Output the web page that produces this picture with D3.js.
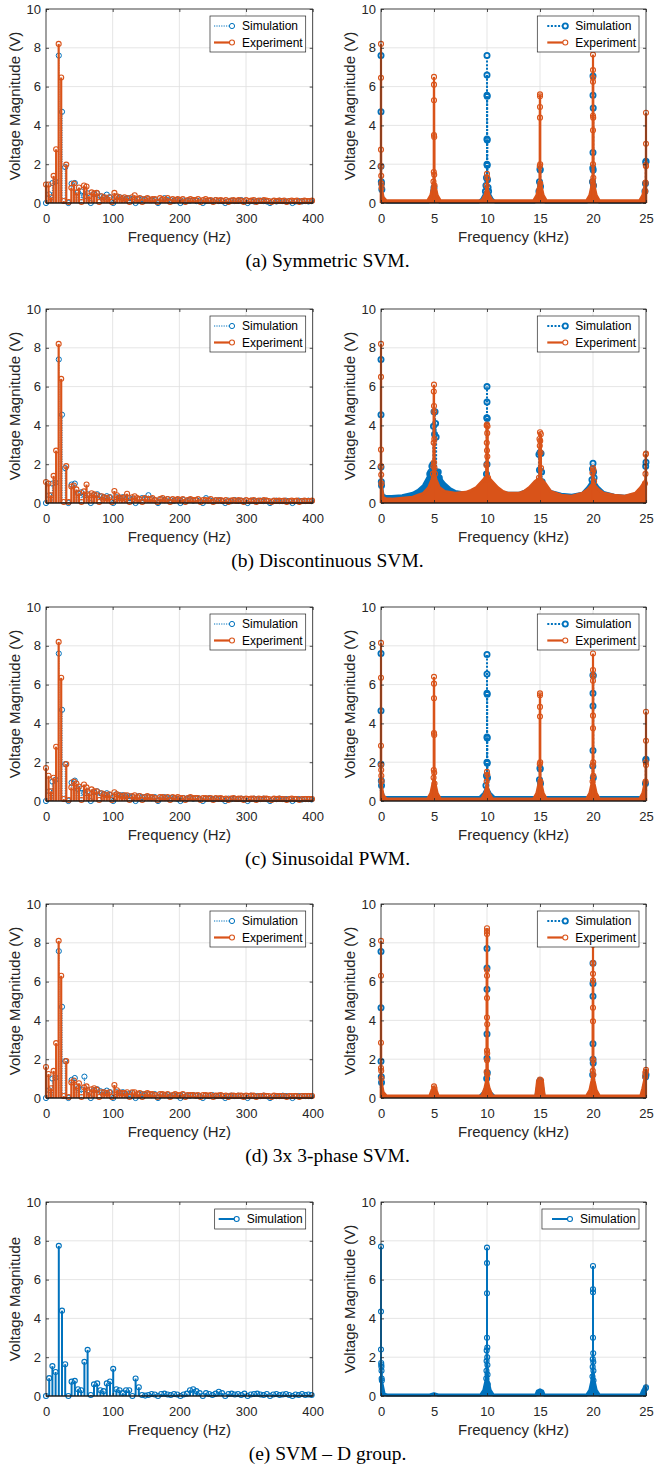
<!DOCTYPE html>
<html lang="en">
<head>
<meta charset="UTF-8">
<title>Voltage spectra</title>
<script src="https://cdn.jsdelivr.net/npm/d3@7"></script>
<style>
  body { margin: 0; background: #fff; }
  svg { display: block; font-family: "Liberation Sans", Arial, sans-serif; }
  .axis-label { fill: #262626; font-size: 15px; }
  .caption { font-family: "Liberation Serif", "Times New Roman", serif; font-size: 19.5px; fill: #000; }
  .legend text { font-size: 12px; fill: #000; }
</style>
</head>
<body>
<svg id="chart" width="655" height="1465"></svg>
<script>
// ---- data -------------------------------------------------------------
const BLUE = "#0072BD", ORANGE = "#D95319";
const SIM_BIN_HZ = 4.8;   // frequency resolution of the simulated spectra
const EXP_BIN_HZ = 3.8;   // frequency resolution of the measured spectra

const yTicks = [0, 2, 4, 6, 8, 10];
const hzTicks = [0, 100, 200, 300, 400];
const khzTicks = [0, 5, 10, 15, 20, 25];
const captions = ["(a) Symmetric SVM.", "(b) Discontinuous SVM.", "(c) Sinusoidal PWM.",
                  "(d) 3x 3-phase SVM.", "(e) SVM \u2013 D group."];

// low-frequency spectra (V), one value per bin
const simA_L = [0, 0.45, 1.03, 1.1, 7.6, 4.7, 1.85, 0, 1.0, 1.03,
  0.55, 0.6, 0.35, 0.5, 0, 0.45, 0.5, 0.35, 0.3, 0.43,
  0.3, 0, 0.3, 0.3, 0.25, 0.2, 0.25, 0.2, 0, 0.2,
  0.2, 0.15, 0.2, 0.15, 0.15, 0, 0.15, 0.25, 0.15, 0.15,
  0.12, 0.15, 0, 0.12, 0.1, 0.12, 0.15, 0.1, 0.12, 0,
  0.1, 0.12, 0.1, 0.15, 0.1, 0.1, 0, 0.1, 0.12, 0.1,
  0.1, 0.15, 0.1, 0, 0.1, 0.08, 0.1, 0.12, 0.1, 0.08,
  0, 0.1, 0.08, 0.12, 0.1, 0.08, 0.1, 0, 0.08, 0.1,
  0.08, 0.1, 0.08, 0.1];
const expA_L = [0.95, 0.95, 0.3, 1.4, 2.77, 8.2, 6.47, 0.1, 1.98, 0.05,
  0.78, 1.0, 0.55, 0.8, 0.05, 0.9, 0.85, 0.35, 0.55, 0.5,
  0.52, 0.05, 0.35, 0.3, 0.2, 0.3, 0.05, 0.52, 0.35, 0.3,
  0.2, 0.3, 0.25, 0.05, 0.3, 0.4, 0.2, 0.25, 0.05, 0.2,
  0.25, 0.15, 0.2, 0.2, 0.05, 0.25, 0.2, 0.15, 0.25, 0.05,
  0.2, 0.15, 0.2, 0.15, 0.2, 0.05, 0.15, 0.2, 0.15, 0.15,
  0.2, 0.05, 0.15, 0.2, 0.12, 0.15, 0.05, 0.15, 0.12, 0.15,
  0.1, 0.15, 0.05, 0.12, 0.15, 0.1, 0.15, 0.12, 0.05, 0.15,
  0.1, 0.12, 0.15, 0.05, 0.12, 0.1, 0.15, 0.12, 0.1, 0.05,
  0.12, 0.1, 0.12, 0.1, 0.12, 0.05, 0.1, 0.12, 0.1, 0.12,
  0.05, 0.1, 0.12, 0.1, 0.1, 0.12];

const simB_L = [0, 0.4, 1.0, 1.05, 7.4, 4.55, 1.8, 0, 0.95, 1.0,
  0.5, 0.55, 0.4, 0.45, 0, 0.4, 0.45, 0.35, 0.3, 0.35,
  0.3, 0, 0.3, 0.25, 0.3, 0.2, 0.25, 0.2, 0, 0.2,
  0.25, 0.2, 0.4, 0.2, 0.15, 0, 0.2, 0.15, 0.2, 0.15,
  0.12, 0.15, 0, 0.15, 0.12, 0.15, 0.12, 0.15, 0.12, 0,
  0.25, 0.15, 0.1, 0.12, 0.15, 0.1, 0, 0.12, 0.1, 0.15,
  0.1, 0.12, 0.1, 0, 0.12, 0.1, 0.1, 0.12, 0.1, 0.12,
  0, 0.1, 0.12, 0.1, 0.1, 0.12, 0.1, 0, 0.1, 0.12,
  0.1, 0.1, 0.12, 0.1];
const expB_L = [1.08, 1.0, 0.4, 1.4, 2.7, 8.2, 6.4, 0.05, 1.9, 0.05,
  0.85, 0.9, 0.7, 0.5, 0.05, 0.6, 0.95, 0.4, 0.5, 0.45,
  0.4, 0.05, 0.35, 0.3, 0.25, 0.3, 0.05, 0.62, 0.4, 0.3,
  0.25, 0.3, 0.48, 0.05, 0.3, 0.35, 0.25, 0.2, 0.05, 0.25,
  0.2, 0.2, 0.25, 0.15, 0.05, 0.2, 0.25, 0.15, 0.2, 0.05,
  0.2, 0.15, 0.2, 0.15, 0.2, 0.05, 0.15, 0.2, 0.15, 0.15,
  0.2, 0.05, 0.15, 0.15, 0.12, 0.2, 0.05, 0.15, 0.12, 0.15,
  0.1, 0.15, 0.05, 0.12, 0.15, 0.1, 0.15, 0.12, 0.05, 0.15,
  0.1, 0.12, 0.15, 0.05, 0.12, 0.1, 0.15, 0.12, 0.1, 0.05,
  0.12, 0.1, 0.12, 0.1, 0.12, 0.05, 0.1, 0.12, 0.1, 0.12,
  0.05, 0.1, 0.12, 0.1, 0.1, 0.12];

const simC_L = [0, 0.5, 1.0, 1.1, 7.6, 4.7, 1.9, 0, 0.95, 1.05,
  0.6, 0.65, 0.4, 0.5, 0, 0.45, 0.5, 0.4, 0.35, 0.4,
  0.3, 0, 0.35, 0.3, 0.3, 0.25, 0.25, 0.2, 0, 0.25,
  0.2, 0.2, 0.2, 0.15, 0.2, 0, 0.15, 0.2, 0.15, 0.15,
  0.15, 0.12, 0, 0.15, 0.12, 0.15, 0.12, 0.15, 0.12, 0,
  0.12, 0.15, 0.1, 0.12, 0.12, 0.1, 0, 0.12, 0.1, 0.12,
  0.1, 0.12, 0.1, 0, 0.1, 0.12, 0.1, 0.1, 0.12, 0.1,
  0, 0.1, 0.1, 0.12, 0.1, 0.1, 0.1, 0, 0.1, 0.1,
  0.08, 0.1, 0.1, 0.08];
const expC_L = [1.7, 1.3, 0.5, 1.2, 2.8, 8.2, 6.35, 0.1, 1.9, 0.05,
  0.7, 1.0, 0.9, 0.75, 0.05, 0.85, 0.7, 0.4, 0.6, 0.5,
  0.5, 0.05, 0.4, 0.35, 0.3, 0.35, 0.05, 0.45, 0.35, 0.3,
  0.25, 0.3, 0.3, 0.05, 0.25, 0.3, 0.2, 0.25, 0.05, 0.2,
  0.25, 0.2, 0.2, 0.15, 0.05, 0.2, 0.2, 0.15, 0.2, 0.05,
  0.2, 0.15, 0.2, 0.15, 0.15, 0.05, 0.15, 0.2, 0.15, 0.15,
  0.15, 0.05, 0.15, 0.15, 0.12, 0.15, 0.05, 0.15, 0.12, 0.15,
  0.1, 0.12, 0.05, 0.12, 0.15, 0.1, 0.12, 0.12, 0.05, 0.12,
  0.1, 0.12, 0.12, 0.05, 0.12, 0.1, 0.12, 0.12, 0.1, 0.05,
  0.12, 0.1, 0.12, 0.1, 0.1, 0.05, 0.1, 0.12, 0.1, 0.1,
  0.05, 0.1, 0.1, 0.1, 0.1, 0.1];

const simD_L = [0, 0.4, 1.0, 1.05, 7.57, 4.7, 1.9, 0, 0.93, 1.03,
  0.5, 0.45, 1.1, 0.4, 0, 0.4, 0.45, 0.35, 0.3, 0.38,
  0.3, 0, 0.3, 0.25, 0.3, 0.2, 0.2, 0.25, 0, 0.2,
  0.2, 0.15, 0.2, 0.15, 0.2, 0, 0.15, 0.15, 0.15, 0.12,
  0.15, 0.12, 0, 0.15, 0.12, 0.12, 0.15, 0.12, 0.1, 0,
  0.12, 0.1, 0.15, 0.1, 0.12, 0.1, 0, 0.1, 0.12, 0.1,
  0.12, 0.1, 0.1, 0, 0.12, 0.1, 0.1, 0.1, 0.12, 0.1,
  0, 0.1, 0.1, 0.1, 0.12, 0.1, 0.1, 0, 0.1, 0.1,
  0.1, 0.1, 0.1, 0.1];
const expD_L = [1.6, 1.24, 0.5, 1.4, 2.83, 8.1, 6.3, 0.1, 1.9, 0.05,
  0.8, 0.9, 0.6, 0.76, 0.05, 0.55, 0.6, 0.3, 0.45, 0.5,
  0.43, 0.05, 0.3, 0.3, 0.25, 0.3, 0.05, 0.67, 0.4, 0.3,
  0.25, 0.25, 0.3, 0.05, 0.3, 0.3, 0.2, 0.25, 0.05, 0.2,
  0.25, 0.2, 0.2, 0.15, 0.05, 0.2, 0.2, 0.15, 0.2, 0.05,
  0.15, 0.2, 0.15, 0.15, 0.2, 0.05, 0.15, 0.15, 0.15, 0.12,
  0.15, 0.05, 0.15, 0.15, 0.12, 0.15, 0.05, 0.12, 0.12, 0.15,
  0.1, 0.12, 0.05, 0.12, 0.12, 0.1, 0.12, 0.12, 0.05, 0.12,
  0.1, 0.12, 0.12, 0.05, 0.1, 0.1, 0.12, 0.1, 0.1, 0.05,
  0.12, 0.1, 0.1, 0.1, 0.1, 0.05, 0.1, 0.1, 0.1, 0.1,
  0.05, 0.1, 0.1, 0.1, 0.1, 0.1];

const simE_L = [0, 0.92, 1.54, 1.24, 7.74, 4.4, 1.64, 0, 0.74, 0.78,
  0.35, 0.3, 1.76, 2.38, 0.05, 0.6, 0.65, 0.3, 0.25, 0.65,
  0.75, 1.4, 0.35, 0.3, 0.15, 0.3, 0.3, 0, 0.9, 0.45,
  0.05, 0.02, 0.05, 0.1, 0.08, 0, 0.1, 0.12, 0.08, 0.05,
  0.1, 0.08, 0, 0.08, 0.12, 0.3, 0.35, 0.25, 0.15, 0,
  0.15, 0.1, 0.05, 0.12, 0.22, 0.15, 0, 0.1, 0.12, 0.08,
  0.1, 0.05, 0.12, 0, 0.08, 0.1, 0.12, 0.08, 0.05, 0.1,
  0, 0.08, 0.1, 0.05, 0.08, 0.1, 0.05, 0, 0.08, 0.05,
  0.1, 0.05, 0.08, 0.05];

// high-frequency spectra: [kHz, V] stems and the dense low-level floor [kHz, V]
const simA_R = [[0, 7.6], [0, 4.7], [0, 1.9], [0.03, 1.1], [0.05, 1.0], [0.08, 0.7],
  [5, 0.8], [4.97, 0.6],
  [10, 7.6], [10, 6.6], [10, 5.55], [10.02, 5.5], [10, 3.3], [10.02, 3.25], [10, 2.0], [10.02, 1.95],
  [9.95, 1.3], [10.05, 1.2], [9.9, 0.9], [10.1, 0.8], [9.85, 0.6], [10.15, 0.6],
  [15, 1.75], [15.02, 1.7], [14.95, 1.1], [15.05, 0.85], [14.9, 0.6],
  [20, 6.55], [20, 5.55], [20.02, 4.9], [20, 2.6], [19.98, 1.8], [20.02, 1.7], [19.95, 1.1], [20.05, 0.9],
  [25, 2.15], [24.98, 2.1], [24.95, 1.0], [24.9, 0.6]];
const simA_env = [[0, 0.6], [0.3, 0.1], [0.6, 0.05], [4.5, 0.05], [4.8, 0.3], [5, 0.6], [5.2, 0.3], [5.5, 0.05],
  [9.2, 0.05], [9.5, 0.2], [9.8, 0.5], [10, 0.7], [10.2, 0.5], [10.5, 0.2], [10.8, 0.05],
  [14.5, 0.05], [14.8, 0.3], [15, 0.6], [15.2, 0.3], [15.5, 0.05],
  [19.4, 0.05], [19.7, 0.2], [19.9, 0.5], [20, 0.7], [20.1, 0.5], [20.3, 0.2], [20.6, 0.05],
  [24.5, 0.05], [24.8, 0.3], [25, 0.6]];
const expA_R = [[0, 8.2], [0, 6.45], [0, 2.75], [0, 1.9], [0.02, 1.4], [0.04, 1.0], [0.06, 0.8],
  [5, 6.5], [5, 6.1], [5, 5.3], [5, 3.5], [5.02, 3.4], [4.98, 1.6], [5.02, 1.45], [4.95, 1.1], [5.05, 0.9],
  [10, 1.5], [10.03, 1.3], [9.97, 0.9],
  [15, 5.6], [15, 5.5], [15, 4.95], [15, 4.4], [15.02, 2.0], [14.98, 1.9], [15.03, 1.0], [14.96, 0.7],
  [20, 7.65], [20, 6.85], [20, 6.45], [20, 6.25], [20, 4.5], [20.02, 4.4], [20, 3.75], [20, 2.0],
  [20.03, 1.3], [19.97, 1.1], [20.05, 0.9],
  [25, 4.65], [25, 3.05], [24.98, 1.95], [25, 1.9], [24.96, 1.05], [24.93, 0.6]];
const expA_env = [[0, 0.9], [0.2, 0.3], [0.5, 0.12], [4.4, 0.12], [4.7, 0.4], [4.9, 0.9], [5, 1.1], [5.1, 0.9],
  [5.3, 0.4], [5.6, 0.12], [9.5, 0.12], [9.8, 0.4], [10, 0.8], [10.2, 0.4], [10.5, 0.12],
  [14.4, 0.12], [14.7, 0.4], [14.9, 0.9], [15, 1.1], [15.1, 0.9], [15.3, 0.4], [15.6, 0.12],
  [19.4, 0.12], [19.7, 0.4], [19.9, 0.9], [20, 1.2], [20.1, 0.9], [20.3, 0.4], [20.6, 0.12],
  [24.4, 0.12], [24.7, 0.4], [24.9, 0.9], [25, 1.1]];

const simB_R = [[0, 7.4], [0, 4.55], [0, 1.85], [0.03, 1.1], [0.05, 0.9],
  [5, 4.7], [5.1, 4.7], [5.15, 4.1], [4.95, 3.95], [5.05, 3.55], [5.2, 3.4], [4.9, 2.0], [5.25, 1.6],
  [4.8, 1.9], [4.7, 1.6], [4.6, 1.5], [5.4, 1.6], [5.5, 1.3],
  [10, 6.0], [10, 5.2], [9.98, 4.4], [10.02, 4.35], [10, 2.0], [9.95, 1.5], [10.05, 1.2],
  [15, 2.6], [15.1, 2.55], [14.9, 2.5], [14.95, 1.7], [15.15, 1.6], [15.2, 1.1], [14.8, 1.0],
  [20, 2.05], [19.95, 1.75], [20.05, 1.6], [20.1, 1.3], [19.9, 1.2],
  [25, 2.1], [24.97, 1.9]];
const simB_env = [[0, 1.0], [0.2, 0.4], [0.5, 0.33], [1, 0.33], [2, 0.38], [3, 0.5], [3.5, 0.65], [4, 0.9],
  [4.3, 1.2], [4.6, 1.5], [5, 1.9], [5.4, 1.5], [5.7, 1.2], [6, 1.0], [6.5, 0.75], [7, 0.6], [8, 0.5],
  [8.5, 0.55], [9, 0.6], [9.5, 0.8], [10, 1.2], [10.5, 0.8], [11, 0.6], [12, 0.5], [13, 0.5], [14, 0.7],
  [14.5, 0.9], [15, 1.3], [15.5, 0.9], [16, 0.6], [17, 0.45], [18, 0.4], [19, 0.5], [19.5, 0.8],
  [20, 1.2], [20.5, 0.8], [21, 0.55], [22, 0.4], [23, 0.35], [24, 0.45], [24.5, 0.7], [25, 1.0]];
const expB_R = [[0, 8.2], [0, 6.5], [0, 2.75], [0, 1.9], [0.02, 1.45], [0.04, 1.0],
  [5, 6.1], [4.98, 5.75], [5, 5.0], [5.02, 4.7], [5.03, 3.3], [4.97, 3.1], [5, 2.1], [4.95, 1.9],
  [5.05, 1.8], [5.1, 1.5], [4.9, 1.5],
  [10, 4.05], [9.97, 4.0], [10.05, 3.95], [10.02, 3.6], [9.98, 3.1], [10, 2.7], [10.03, 2.4],
  [9.95, 1.95], [10.1, 1.3], [9.9, 1.2],
  [15, 3.65], [15.08, 3.55], [14.95, 3.3], [15.02, 3.2], [14.98, 2.95], [15.05, 2.6], [15.1, 1.8], [14.9, 1.3],
  [20, 1.8], [20.05, 1.7], [19.95, 1.55], [20.1, 1.1],
  [25, 2.55], [24.97, 2.5], [24.95, 1.5], [24.9, 1.0]];
const expB_env = [[0, 1.0], [0.2, 0.3], [0.5, 0.2], [1, 0.2], [2, 0.25], [3, 0.3], [3.5, 0.4], [4, 0.5],
  [4.5, 0.8], [4.8, 1.2], [5, 1.6], [5.2, 1.2], [5.5, 0.8], [6, 0.6], [7, 0.5], [8, 0.55], [8.5, 0.65],
  [9, 0.8], [9.5, 1.1], [10, 1.4], [10.5, 1.1], [11, 0.8], [11.5, 0.6], [12, 0.5], [13, 0.5], [13.5, 0.6],
  [14, 0.8], [14.5, 1.1], [15, 1.3], [15.5, 1.0], [16, 0.6], [17, 0.4], [18, 0.35], [19, 0.5],
  [19.5, 0.7], [20, 1.0], [20.5, 0.7], [21, 0.5], [22, 0.4], [23, 0.35], [24, 0.5], [24.5, 0.8], [25, 1.2]];

const simC_R = [[0, 7.6], [0, 4.65], [0, 1.9], [0.03, 1.05], [0.05, 0.8],
  [10, 7.55], [10, 6.55], [10, 5.55], [10.02, 5.5], [10, 3.3], [10.02, 3.25], [10, 2.0], [10.02, 1.95],
  [9.95, 1.3], [10.05, 1.2], [9.9, 0.8],
  [15, 1.7], [15.02, 1.65], [14.95, 1.1], [15.05, 0.9],
  [20, 6.5], [20.02, 6.45], [20, 5.55], [20, 4.9], [20, 2.6], [19.98, 1.8], [20.03, 1.2],
  [25, 2.15], [24.98, 2.1], [24.95, 0.9]];
const simC_env = [[0, 0.6], [0.3, 0.18], [9.3, 0.18], [9.7, 0.4], [10, 0.7], [10.3, 0.4], [10.7, 0.18],
  [14.6, 0.18], [15, 0.5], [15.4, 0.18], [19.5, 0.18], [20, 0.6], [20.5, 0.18], [24.6, 0.18], [25, 0.6]];
const expC_R = [[0, 8.15], [0, 6.35], [0, 2.85], [0, 1.85], [0.02, 1.6], [0.03, 1.3], [0.05, 1.0],
  [5, 6.4], [5, 6.05], [5, 5.3], [5, 3.5], [5.02, 3.4], [4.98, 1.6], [5.02, 1.45], [4.96, 1.2], [5.05, 0.9],
  [10, 1.5], [10.03, 1.35], [9.97, 1.0],
  [15, 5.55], [15, 5.45], [15, 4.85], [15, 4.35], [15.02, 2.0], [14.98, 1.9], [15.04, 1.0],
  [20, 7.6], [20, 6.75], [20, 6.45], [20, 6.2], [20, 4.4], [20, 3.75], [20.02, 2.0], [19.98, 1.85],
  [20.03, 1.3], [19.96, 1.0],
  [25, 4.6], [25, 3.1], [24.98, 2.0], [25, 1.85], [24.96, 1.0]];
const expC_env = [[0, 0.9], [0.2, 0.3], [0.5, 0.1], [4.4, 0.1], [4.7, 0.4], [4.9, 0.9], [5, 1.1], [5.1, 0.9],
  [5.3, 0.4], [5.6, 0.1], [9.5, 0.1], [9.8, 0.4], [10, 0.8], [10.2, 0.4], [10.5, 0.1],
  [14.4, 0.1], [14.7, 0.4], [14.9, 0.9], [15, 1.1], [15.1, 0.9], [15.3, 0.4], [15.6, 0.1],
  [19.4, 0.1], [19.7, 0.4], [19.9, 0.9], [20, 1.2], [20.1, 0.9], [20.3, 0.4], [20.6, 0.1],
  [24.4, 0.1], [24.7, 0.4], [24.9, 0.9], [25, 1.1]];

const simD_R = [[0, 7.55], [0, 4.65], [0, 1.9], [0.03, 1.1], [0.05, 0.8],
  [10, 7.7], [10, 6.7], [10, 5.6], [10, 3.3], [10, 2.05], [10.03, 1.3], [9.97, 1.0],
  [15, 0.9], [15.05, 0.8],
  [20, 6.95], [20, 5.9], [20, 5.25], [20, 2.8], [20, 2.0], [20.02, 1.8], [19.97, 1.2],
  [25, 1.2], [24.97, 1.1]];
const simD_env = [[0, 0.6], [0.3, 0.08], [4.7, 0.08], [5, 0.3], [5.3, 0.08], [9.3, 0.08], [9.7, 0.3], [10, 0.7],
  [10.3, 0.3], [10.7, 0.08], [14.6, 0.08], [14.8, 0.7], [15, 0.85], [15.2, 0.7], [15.4, 0.08],
  [19.4, 0.08], [19.8, 0.4], [20, 0.7], [20.2, 0.4], [20.6, 0.08], [24.6, 0.08], [24.8, 0.6], [25, 1.0]];
const expD_R = [[0, 8.1], [0, 6.3], [0, 2.85], [0, 1.55], [0.02, 1.4], [0.04, 1.0],
  [5, 0.6], [5.05, 0.5],
  [10, 8.75], [10, 8.6], [10, 8.45], [10, 6.6], [10, 6.3], [10, 5.15], [10, 4.15], [10.02, 3.8],
  [10, 2.45], [10.02, 2.3], [10, 1.95], [9.97, 1.35], [10.03, 1.2],
  [15, 0.95], [15.1, 0.9], [14.9, 0.85],
  [20, 7.9], [20, 6.95], [20, 6.4], [20, 6.05], [20, 4.65], [20, 3.95], [20.02, 1.95], [19.98, 1.4], [20.03, 1.2],
  [25, 1.45], [24.97, 1.35], [24.95, 1.3], [24.92, 1.1]];
const expD_env = [[0, 0.9], [0.2, 0.3], [0.5, 0.1], [4.6, 0.1], [4.8, 0.4], [5, 0.55], [5.2, 0.4], [5.4, 0.1],
  [9.5, 0.1], [9.8, 0.5], [10, 1.0], [10.2, 0.5], [10.5, 0.1], [14.6, 0.1], [14.75, 0.8], [15, 0.9],
  [15.25, 0.8], [15.4, 0.1], [19.4, 0.1], [19.7, 0.4], [19.9, 0.9], [20, 1.2], [20.1, 0.9], [20.3, 0.4],
  [20.6, 0.1], [24.5, 0.1], [24.7, 0.5], [24.9, 1.0], [25, 1.2]];

const simE_R = [[0, 7.7], [0, 4.35], [0, 2.4], [0.02, 1.7], [0.03, 1.6], [0.04, 1.5], [0.05, 1.3],
  [0.06, 0.9], [0.08, 0.8],
  [10, 7.65], [10, 6.85], [10, 5.3], [10, 3.0], [10.03, 2.5], [9.97, 2.35], [10.02, 2.0], [9.96, 1.8],
  [10.04, 1.6], [9.95, 1.3], [10.05, 1.1], [9.93, 0.9], [10.07, 0.6],
  [20, 6.7], [20, 5.5], [20, 5.35], [20, 3.0], [20.02, 2.2], [19.98, 1.9], [20.03, 1.75], [19.97, 1.5],
  [20.04, 1.3], [19.95, 1.0], [20.05, 0.8],
  [25, 0.45], [24.97, 0.4]];
const simE_env = [[0, 0.9], [0.3, 0.1], [0.6, 0.05], [4.6, 0.05], [5, 0.12], [5.4, 0.05], [9.4, 0.05],
  [9.7, 0.3], [9.9, 0.8], [10, 1.2], [10.1, 0.8], [10.3, 0.3], [10.6, 0.05], [14.6, 0.05], [14.75, 0.25],
  [15, 0.32], [15.25, 0.25], [15.4, 0.05], [19.4, 0.05], [19.7, 0.3], [19.9, 0.8], [20, 1.2], [20.1, 0.8],
  [20.3, 0.3], [20.6, 0.05], [24.5, 0.05], [24.7, 0.3], [24.9, 0.45], [25, 0.5]];

// ---- layout -----------------------------------------------------------
const rowTops = [9, 309, 607, 904, 1202];
const plotH = 194;
const leftX = 46, leftW = 266.7, rightX = 381, rightW = 265;

const rows = [
  { simL: simA_L, expL: expA_L, simR: simA_R, simEnv: simA_env, expR: expA_R, expEnv: expA_env },
  { simL: simB_L, expL: expB_L, simR: simB_R, simEnv: simB_env, expR: expB_R, expEnv: expB_env },
  { simL: simC_L, expL: expC_L, simR: simC_R, simEnv: simC_env, expR: expC_R, expEnv: expC_env },
  { simL: simD_L, expL: expD_L, simR: simD_R, simEnv: simD_env, expR: expD_R, expEnv: expD_env },
  { simL: simE_L, expL: null, simR: simE_R, simEnv: simE_env, expR: null, expEnv: null }
];

const svg = d3.select("#chart");

function drawGrid(g, x, y, w, h, xTicks) {
  g.append("g").selectAll("line").data(xTicks).join("line")
    .attr("x1", d => x(d)).attr("x2", d => x(d)).attr("y1", 0).attr("y2", h)
    .attr("stroke", "#dedede").attr("stroke-width", 0.8);
  g.append("g").selectAll("line").data(yTicks).join("line")
    .attr("x1", 0).attr("x2", w).attr("y1", d => y(d)).attr("y2", d => y(d))
    .attr("stroke", "#dedede").attr("stroke-width", 0.8);
}

function drawAxes(g, x, y, w, h, xTicks, xTitle, yTitle) {
  const style = sel => {
    sel.attr("font-family", null).attr("font-size", 13);
    sel.select(".domain").remove();
    sel.selectAll(".tick line").attr("stroke", "#262626").attr("stroke-width", 0.8);
    sel.selectAll(".tick text").attr("fill", "#262626");
  };
  g.append("g").attr("transform", `translate(0,${h})`)
    .call(d3.axisBottom(x).tickValues(xTicks).tickSizeInner(-3).tickSizeOuter(0).tickPadding(10.5).tickFormat(d3.format("d")))
    .call(style);
  g.append("g")
    .call(d3.axisTop(x).tickValues(xTicks).tickSizeInner(-3).tickSizeOuter(0).tickFormat(""))
    .call(style);
  g.append("g")
    .call(d3.axisLeft(y).tickValues(yTicks).tickSizeInner(-3).tickSizeOuter(0).tickPadding(5))
    .call(style);
  g.append("g").attr("transform", `translate(${w},0)`)
    .call(d3.axisRight(y).tickValues(yTicks).tickSizeInner(-3).tickSizeOuter(0).tickFormat(""))
    .call(style);
  g.append("rect").attr("width", w).attr("height", h)
    .attr("fill", "none").attr("stroke", "#262626").attr("stroke-width", 0.8);
  g.append("text").attr("class", "axis-label").attr("text-anchor", "middle")
    .attr("x", w / 2).attr("y", h + 39).text(xTitle);
  g.append("text").attr("class", "axis-label").attr("text-anchor", "middle")
    .attr("transform", `translate(-31,${h / 2}) rotate(-90)`).attr("dy", "0.35em").text(yTitle);
}

function drawEnvelope(g, x, y, env, color) {
  g.append("path").datum(env)
    .attr("d", d3.area().x(d => x(d[0])).y0(y(0)).y1(d => y(d[1])))
    .attr("fill", color);
  g.append("path").datum(env)
    .attr("d", d3.line().x(d => x(d[0])).y(d => y(d[1])))
    .attr("fill", "none").attr("stroke", color).attr("stroke-width", 3).attr("stroke-linejoin", "round");
}

function drawStems(g, x, y, pts, st) {
  const s = g.append("g");
  s.selectAll("line").data(pts).join("line")
    .attr("x1", d => x(d[0])).attr("x2", d => x(d[0]))
    .attr("y1", y(0)).attr("y2", d => y(d[1]))
    .attr("stroke", st.color).attr("stroke-width", st.lw)
    .attr("stroke-dasharray", st.dash || null);
  s.selectAll("circle").data(pts).join("circle")
    .attr("cx", d => x(d[0])).attr("cy", d => y(d[1])).attr("r", st.r)
    .attr("fill", "none").attr("stroke", st.color).attr("stroke-width", st.mw);
}

function drawLegend(g, w, entries, wide) {
  const textX = wide ? 38 : 32;
  const lg = g.append("g").attr("class", "legend");
  const rowsY = entries.length > 1 ? [10, 26.5] : [10];
  const texts = entries.map((e, i) => lg.append("text")
    .attr("x", textX).attr("y", rowsY[i]).attr("dy", "0.35em").text(e.label));
  const maxLen = d3.max(texts, t => t.node().getComputedTextLength());
  const boxW = textX + maxLen + 3;
  const boxH = entries.length > 1 ? 36 : 20;
  lg.attr("transform", `translate(${w - 7 - boxW},7)`);
  lg.insert("rect", ":first-child").attr("width", boxW).attr("height", boxH)
    .attr("fill", "#fff").attr("stroke", "#262626").attr("stroke-width", 0.7);
  entries.forEach((e, i) => {
    lg.append("line").attr("x1", textX - 28).attr("x2", textX - 8)
      .attr("y1", rowsY[i]).attr("y2", rowsY[i])
      .attr("stroke", e.st.color).attr("stroke-width", e.st.lw).attr("stroke-dasharray", e.st.dash || null);
    lg.append("circle").attr("cx", textX - 10).attr("cy", rowsY[i]).attr("r", e.st.r)
      .attr("fill", "#fff").attr("stroke", e.st.color).attr("stroke-width", e.st.mw);
  });
}

function drawBaseline(g, x, y, w) {
  g.append("line").attr("x1", 0).attr("x2", w).attr("y1", y(0)).attr("y2", y(0))
    .attr("stroke", "#000").attr("stroke-width", 1);
}

const simLowStyle = { color: BLUE, lw: 1, dash: "1.2,1.2", r: 2.6, mw: 1 };
const expStyle = { color: ORANGE, lw: 2.2, r: 2.5, mw: 1.1 };
const simHighStyle = { color: BLUE, lw: 2, dash: "2,1.6", r: 2.6, mw: 1.8 };
const singleStyle = { color: BLUE, lw: 2, r: 2.5, mw: 1.1 };

rows.forEach((row, i) => {
  const top = rowTops[i];
  const single = !row.expL;

  // low-frequency panel
  const gL = svg.append("g").attr("transform", `translate(${leftX},${top})`);
  const xL = d3.scaleLinear().domain([0, 400]).range([0, leftW]);
  const yL = d3.scaleLinear().domain([0, 10]).range([plotH, 0]);
  drawGrid(gL, xL, yL, leftW, plotH, hzTicks);
  const simPts = row.simL.map((v, k) => [k * SIM_BIN_HZ, v]).filter(d => d[0] <= 400);
  drawStems(gL, xL, yL, simPts, single ? singleStyle : simLowStyle);
  if (row.expL) {
    const expPts = row.expL.map((v, k) => [k * EXP_BIN_HZ, v]).filter(d => d[0] <= 400);
    drawStems(gL, xL, yL, expPts, expStyle);
  }
  drawBaseline(gL, xL, yL, leftW);
  drawAxes(gL, xL, yL, leftW, plotH, hzTicks, "Frequency (Hz)",
    single ? "Voltage Magnitude" : "Voltage Magnitude (V)");
  drawLegend(gL, leftW, single
    ? [{ label: "Simulation", st: singleStyle }]
    : [{ label: "Simulation", st: simLowStyle }, { label: "Experiment", st: expStyle }], false);

  // high-frequency panel
  const gR = svg.append("g").attr("transform", `translate(${rightX},${top})`);
  const xR = d3.scaleLinear().domain([0, 25]).range([0, rightW]);
  const yR = d3.scaleLinear().domain([0, 10]).range([plotH, 0]);
  drawGrid(gR, xR, yR, rightW, plotH, khzTicks);
  const hiSim = single ? singleStyle : simHighStyle;
  drawEnvelope(gR, xR, yR, row.simEnv, BLUE);
  drawStems(gR, xR, yR, row.simR, hiSim);
  if (row.expR) {
    drawEnvelope(gR, xR, yR, row.expEnv, ORANGE);
    drawStems(gR, xR, yR, row.expR, expStyle);
  }
  drawBaseline(gR, xR, yR, rightW);
  drawAxes(gR, xR, yR, rightW, plotH, khzTicks, "Frequency (kHz)", "Voltage Magnitude (V)");
  drawLegend(gR, rightW, single
    ? [{ label: "Simulation", st: singleStyle }]
    : [{ label: "Simulation", st: hiSim }, { label: "Experiment", st: expStyle }], true);

  svg.append("text").attr("class", "caption").attr("text-anchor", "middle")
    .attr("x", 327.5).attr("y", top + plotH + 64).text(captions[i]);
});
</script>
</body>
</html>
